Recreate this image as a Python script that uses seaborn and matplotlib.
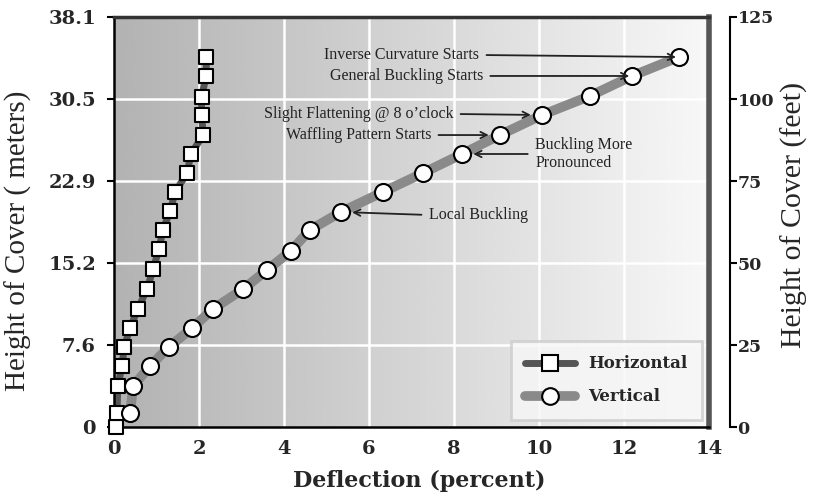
import numpy as np
import pandas as pd
import matplotlib
matplotlib.use("Agg")
import matplotlib.pyplot as plt
import seaborn as sns
from matplotlib.lines import Line2D

# ---------------- data ----------------
horiz_defl = [0.05, 0.07, 0.09, 0.19, 0.24, 0.38, 0.56, 0.78, 0.92, 1.06,
              1.15, 1.32, 1.44, 1.72, 1.81, 2.10, 2.06, 2.06, 2.17, 2.17]
horiz_height_m = [0.0, 1.30, 3.81, 5.67, 7.43, 9.20, 10.97, 12.82, 14.68, 16.54,
                  18.31, 20.07, 21.84, 23.60, 25.37, 27.13, 28.99, 30.67, 32.62, 34.38]

vert_defl = [0.38, 0.45, 0.85, 1.29, 1.84, 2.33, 3.04, 3.60, 4.16, 4.61,
             5.34, 6.33, 7.27, 8.19, 9.08, 10.07, 11.20, 12.19, 13.29]
vert_height_m = [1.30, 3.81, 5.67, 7.43, 9.20, 10.97, 12.82, 14.59, 16.36, 18.31,
                 19.98, 21.84, 23.60, 25.37, 27.13, 28.99, 30.76, 32.62, 34.38]

meter_ticks = [0, 7.6, 15.2, 22.9, 30.5, 38.1]
meter_labels = ["0", "7.6", "15.2", "22.9", "30.5", "38.1"]
feet_ticks = [0, 25, 50, 75, 100, 125]
x_ticks = [0, 2, 4, 6, 8, 10, 12, 14]

annot_labels = ["Inverse Curvature Starts", "General Buckling Starts",
                "Slight Flattening @ 8 o\u2019clock", "Waffling Pattern Starts",
                "Buckling More\nPronounced", "Local Buckling"]
annot_point_idx = [18, 17, 15, 14, 13, 10]

# text placement (data coords) and alignment for each annotation
annot_text_pos = [(8.59, 34.57), (8.68, 32.62), (7.98, 29.09), (7.46, 27.13),
                  (9.91, 25.37), (7.41, 19.70)]
annot_ha = ["right", "right", "right", "right", "left", "left"]
annot_shrink = [2, 2, 8, 8, 8, 8]

# ---------------- figure ----------------
sns.set_theme(style="white")
plt.rcParams["font.family"] = ["DejaVu Serif", "DejaVu Sans"]

fig = plt.figure(figsize=(8.15, 4.95), dpi=100)
ax = fig.add_axes([114 / 815, 1 - 427 / 495, (709 - 114) / 815, (427 - 17) / 495])

# gradient background
grad = np.linspace(0.70, 0.97, 256)[None, :]
grad = np.repeat(grad, 2, axis=0)
ax.imshow(grad, extent=[0, 1, 0, 1], transform=ax.transAxes, cmap="gray",
          vmin=0, vmax=1, aspect="auto", zorder=0, interpolation="bicubic")

ax.set_xlim(0, 14)
ax.set_ylim(0, 38.1)

# gridlines
for xv in x_ticks[1:-1]:
    ax.axvline(xv, color="white", lw=1.8, zorder=1)
for yv in meter_ticks[1:-1]:
    ax.axhline(yv, color="white", lw=1.8, zorder=1)

df_h = pd.DataFrame({"Deflection": horiz_defl, "Height": horiz_height_m})
df_v = pd.DataFrame({"Deflection": vert_defl, "Height": vert_height_m})

# lines
sns.lineplot(data=df_h, x="Deflection", y="Height", sort=False, estimator=None,
             ax=ax, color="#555555", lw=5, zorder=2)
sns.lineplot(data=df_v, x="Deflection", y="Height", sort=False, estimator=None,
             ax=ax, color="#8a8a8a", lw=7, zorder=2)
# markers
sns.scatterplot(data=df_h, x="Deflection", y="Height", ax=ax, marker="s", s=105,
                facecolor="white", edgecolor="black", linewidth=1.5, zorder=4,
                clip_on=False)
sns.scatterplot(data=df_v, x="Deflection", y="Height", ax=ax, marker="o", s=150,
                facecolor="white", edgecolor="black", linewidth=1.5, zorder=4,
                clip_on=False)

ax.set_xticks(x_ticks)
ax.set_xticklabels([str(v) for v in x_ticks], fontweight="bold", fontsize=14)
ax.set_yticks(meter_ticks)
ax.set_yticklabels(meter_labels, fontweight="bold", fontsize=14)
ax.tick_params(axis="both", which="major", direction="out", length=5, width=1.5,
               color="black", pad=4)
ax.tick_params(axis="y", pad=8)
ax.set_xlabel("Deflection (percent)", fontweight="bold", fontsize=16)
ax.xaxis.set_label_coords((419 - 114) / 595, (427 - 470) / 410)
ax.set_ylabel("Height of Cover ( meters)", fontsize=21,
              family=["Liberation Serif"])
ax.yaxis.set_label_coords((32 - 114) / 595, (427 - 241) / 410)

for s in ["left", "bottom"]:
    ax.spines[s].set_color("black")
    ax.spines[s].set_linewidth(1.8)
ax.spines["top"].set_color("#333333")
ax.spines["top"].set_linewidth(2.5)
ax.spines["right"].set_color("#555555")
ax.spines["right"].set_linewidth(4)

# annotations
for lab, idx, pos, ha, sh in zip(annot_labels, annot_point_idx, annot_text_pos,
                                 annot_ha, annot_shrink):
    ax.annotate(lab, xy=(vert_defl[idx], vert_height_m[idx]), xytext=pos,
                ha=ha, va="center", fontsize=11.5, family=["Liberation Serif"],
                color="#222222", zorder=5, linespacing=1.1,
                arrowprops=dict(arrowstyle="->", color="#222222", lw=1.3,
                                shrinkA=3, shrinkB=sh,
                                relpos=(1, 0.5) if ha == "right" else (0, 0.5)))

# legend
handles = [Line2D([0], [0], color="#555555", lw=5, marker="s", markersize=11,
                  markerfacecolor="white", markeredgecolor="black", markeredgewidth=1.5),
           Line2D([0], [0], color="#8a8a8a", lw=7, marker="o", markersize=12,
                  markerfacecolor="white", markeredgecolor="black", markeredgewidth=1.5)]
leg = ax.legend(handles, ["Horizontal", "Vertical"], loc="lower right",
                prop={"weight": "bold", "size": 12, "family": "DejaVu Serif"},
                frameon=True, fancybox=False, handlelength=3.0, borderpad=0.85,
                labelspacing=0.95, handletextpad=0.8, bbox_to_anchor=(1.0, 0.0),
                borderaxespad=0.45)
leg.get_frame().set_facecolor("#f7f7f7")
leg.get_frame().set_edgecolor("#cccccc")
leg.get_frame().set_linewidth(2)
leg.set_zorder(6)

# right axis in feet
ax2 = ax.twinx()
for s in ["top", "bottom", "left"]:
    ax2.spines[s].set_visible(False)
ax2.spines["right"].set_position(("outward", 15))
ax2.spines["right"].set_color("black")
ax2.spines["right"].set_linewidth(1.5)
ax2.set_ylim(0, 125)
ax2.set_yticks(feet_ticks)
ax2.set_yticklabels([str(v) for v in feet_ticks], fontweight="bold",
                    fontsize=12.5, family="DejaVu Serif")
ax2.tick_params(axis="y", direction="out", length=5, width=1.5, color="black",
                pad=0.5, labelsize=12.5)
ax2.set_ylabel("Height of Cover (feet)", fontsize=21.5, family=["Liberation Serif"])
ax2.yaxis.set_label_coords((781 - 114) / 595, (427 - 215) / 410)
ax2.grid(False)

fig.savefig("out.png", dpi=100)
